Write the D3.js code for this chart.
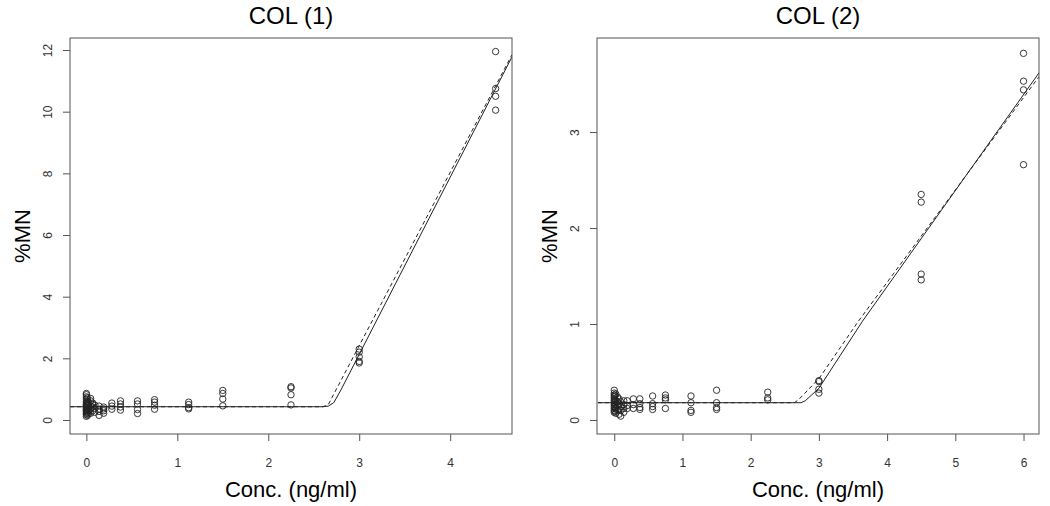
<!DOCTYPE html>
<html>
<head>
<meta charset="utf-8">
<script src="https://cdn.jsdelivr.net/npm/d3@7"></script>
<style>
  body { margin: 0; background: #fff; }
  svg { display: block; font-family: "Liberation Sans", Arial, sans-serif; }
  .box { fill: none; stroke: #555; stroke-width: 1; }
  .tick line { stroke: #555; }
  .tick text { fill: #333; font-size: 12px; }
  .pt { fill: none; stroke: #222; stroke-width: 0.9; }
  .fit { fill: none; stroke: #222; stroke-width: 1; }
  .fit.dashed { stroke-dasharray: 4,3; }
  .title { fill: #000; font-size: 24px; }
  .xlab, .ylab { fill: #000; font-size: 22px; }
</style>
</head>
<body>
<svg width="1050" height="506"></svg>
<script>
// ---- COL (1) ----
const col1Doses = [0, 0.012, 0.023, 0.047, 0.07, 0.094, 0.14, 0.19, 0.28, 0.375, 0.5625, 0.75, 1.125, 1.5, 2.25, 3, 4.5];
const col1Values = [
    [0.12, 0.18, 0.22, 0.27, 0.3, 0.33, 0.36, 0.4, 0.43, 0.47, 0.5, 0.55, 0.6, 0.68, 0.75, 0.82, 0.86],
    [0.15, 0.25, 0.35, 0.45, 0.52, 0.6, 0.72],
    [0.2, 0.3, 0.4, 0.48, 0.58],
    [0.22, 0.35, 0.45, 0.62, 0.7],
    [0.3, 0.42, 0.5, 0.55],
    [0.25, 0.38, 0.48],
    [0.15, 0.28, 0.35, 0.45],
    [0.22, 0.3, 0.36, 0.42],
    [0.55, 0.45, 0.35],
    [0.62, 0.52, 0.42, 0.32],
    [0.62, 0.52, 0.34, 0.21],
    [0.66, 0.58, 0.48, 0.35],
    [0.58, 0.5, 0.4, 0.36],
    [0.96, 0.86, 0.68, 0.46],
    [1.08, 1.04, 0.82, 0.49],
    [2.3, 2.2, 2.05, 1.9, 1.85],
    [11.95, 10.75, 10.5, 10.05]
];
const col1Fit = [[-0.18, 0.43], [2.6, 0.43], [2.66, 0.45], [2.72, 0.56], [2.8, 0.98], [4.68, 11.78]];
const col1FitDashed = [[-0.18, 0.43], [2.6, 0.43], [2.66, 0.5], [4.68, 11.85]];
const col1XTicks = [0, 1, 2, 3, 4];
const col1YTicks = [0, 2, 4, 6, 8, 10, 12];

// ---- COL (2) ----
const col2Doses = [0, 0.012, 0.023, 0.047, 0.07, 0.094, 0.14, 0.19, 0.28, 0.375, 0.5625, 0.75, 1.125, 1.5, 2.25, 3, 4.5, 6];
const col2Values = [
    [0.08, 0.1, 0.12, 0.14, 0.16, 0.18, 0.2, 0.22, 0.24, 0.26, 0.28, 0.31],
    [0.09, 0.13, 0.17, 0.21, 0.25],
    [0.07, 0.12, 0.16, 0.2, 0.27],
    [0.1, 0.15, 0.19, 0.24],
    [0.06, 0.11, 0.17, 0.22],
    [0.04, 0.1, 0.14, 0.19],
    [0.08, 0.12, 0.16, 0.2],
    [0.12, 0.15, 0.2],
    [0.22, 0.16, 0.12],
    [0.22, 0.17, 0.13, 0.11],
    [0.25, 0.17, 0.14, 0.11],
    [0.26, 0.23, 0.21, 0.12],
    [0.25, 0.18, 0.1, 0.08],
    [0.31, 0.18, 0.13, 0.11],
    [0.29, 0.23, 0.21],
    [0.41, 0.4, 0.32, 0.28],
    [2.35, 2.27, 1.52, 1.46],
    [3.82, 3.53, 3.44, 2.66]
];
const col2Fit = [[-0.24, 0.18], [2.74, 0.18], [2.8, 0.2], [3.0, 0.33], [3.64, 1.03], [6.23, 3.62]];
const col2FitDashed = [[-0.24, 0.18], [2.64, 0.18], [2.7, 0.21], [3.0, 0.43], [3.58, 1.03], [6.23, 3.58]];
const col2XTicks = [0, 1, 2, 3, 4, 5, 6];
const col2YTicks = [0, 1, 2, 3];

const svg = d3.select('svg');
const plotTop = 38, plotBottom = 434;

const drawPanel = (selection, props) => {
    const { title, left, right, xDomain, yDomain, xTicks, yTicks, doses, values, fit, fitDashed } = props;

    const x = d3.scaleLinear().domain(xDomain).range([left, right]);
    const y = d3.scaleLinear().domain(yDomain).range([plotBottom, plotTop]);

    const g = selection.append('g');

    // x axis (R style: ticks outward, labels below)
    g.append('g')
        .attr('transform', `translate(0,${plotBottom})`)
        .call(d3.axisBottom(x).tickValues(xTicks).tickSize(7).tickPadding(17).tickFormat(d3.format('d')))
        .call(a => a.select('.domain').remove());

    // y axis, labels rotated like R's las=0
    g.append('g')
        .attr('transform', `translate(${left},0)`)
        .call(d3.axisLeft(y).tickValues(yTicks).tickSize(7).tickFormat(d3.format('d')))
        .call(a => a.select('.domain').remove())
        .call(a => a.selectAll('.tick text')
            .attr('transform', 'rotate(-90)')
            .attr('x', 0)
            .attr('y', -18)
            .attr('dy', 0)
            .attr('text-anchor', 'middle'));

    const clip = 'clip-' + title.replace(/\W/g, '');
    g.append('clipPath').attr('id', clip)
        .append('rect')
        .attr('x', left).attr('y', plotTop)
        .attr('width', right - left).attr('height', plotBottom - plotTop);

    const line = d3.line().x(d => x(d[0])).y(d => y(d[1]));

    g.append('path')
        .attr('class', 'fit')
        .attr('clip-path', `url(#${clip})`)
        .attr('d', line(fit));

    g.append('path')
        .attr('class', 'fit dashed')
        .attr('clip-path', `url(#${clip})`)
        .attr('d', line(fitDashed));

    const points = [];
    doses.forEach((c, i) => values[i].forEach(v => points.push([c, v])));

    g.selectAll('circle').data(points)
        .enter().append('circle')
        .attr('class', 'pt')
        .attr('cx', d => x(d[0]))
        .attr('cy', d => y(d[1]))
        .attr('r', 3.2);

    g.append('rect')
        .attr('class', 'box')
        .attr('x', left).attr('y', plotTop)
        .attr('width', right - left).attr('height', plotBottom - plotTop);

    const cx = (left + right) / 2;

    g.append('text')
        .attr('class', 'title')
        .attr('x', cx).attr('y', 24)
        .attr('text-anchor', 'middle')
        .text(title);

    g.append('text')
        .attr('class', 'xlab')
        .attr('x', cx).attr('y', 497)
        .attr('text-anchor', 'middle')
        .text('Conc. (ng/ml)');

    g.append('text')
        .attr('class', 'ylab')
        .attr('transform', `translate(${left - 40},${(plotTop + plotBottom) / 2}) rotate(-90)`)
        .attr('text-anchor', 'middle')
        .text('%MN');
};

svg.call(drawPanel, {
    title: 'COL (1)',
    left: 70, right: 512,
    xDomain: [-0.18, 4.68], yDomain: [-0.454, 12.39],
    xTicks: col1XTicks, yTicks: col1YTicks,
    doses: col1Doses, values: col1Values,
    fit: col1Fit, fitDashed: col1FitDashed
});

svg.call(drawPanel, {
    title: 'COL (2)',
    left: 597, right: 1039,
    xDomain: [-0.253, 6.227], yDomain: [-0.146, 3.98],
    xTicks: col2XTicks, yTicks: col2YTicks,
    doses: col2Doses, values: col2Values,
    fit: col2Fit, fitDashed: col2FitDashed
});
</script>
</body>
</html>
